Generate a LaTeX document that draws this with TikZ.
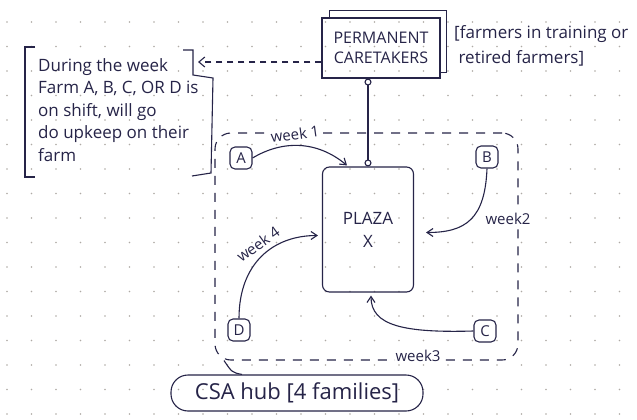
\documentclass[tikz,border=0pt]{standalone}
\usepackage{fontspec}
\setmainfont{Open Sans}
\usetikzlibrary{arrows.meta,calc}
\definecolor{ink}{RGB}{38,36,72}
\definecolor{dotc}{RGB}{175,170,165}
\tikzset{
  ink/.style={draw=ink, line width=1.1pt, text=ink},
  box/.style={ink, align=center, inner sep=2pt},
  farm/.style={ink, rounded corners=5pt, minimum size=22pt, inner sep=0pt, font=\fontsize{15}{16}\selectfont},
  lbl/.style={text=ink, inner sep=1pt, fill=white, font=\fontsize{15}{17}\selectfont},
  flow/.style={draw=ink, line width=1.1pt, -{Straight Barb[length=6pt,width=8pt]}},
}
\begin{document}
\begin{tikzpicture}[x=1pt,y=-1pt]
\useasboundingbox (0,0) rectangle (637,420);
\fill[white] (0,0) rectangle (637,420);
\foreach \i in {0,...,25}{\foreach \j in {0,...,17}{\fill[dotc] (7+24.5*\i, 22+24.5*\j) circle (0.8pt);}}

% permanent caretakers
\node[box, minimum width=118pt, minimum height=60pt, font=\fontsize{16}{20}\selectfont] (pc) at (381,48) {PERMANENT\\CARETAKERS};
\draw[ink] ([xshift=8pt]pc.north west) -- ([xshift=8pt,yshift=7pt]pc.north west) -- ([xshift=6pt,yshift=7pt]pc.north east) -- ([xshift=6pt,yshift=6pt]pc.south east) -- ([yshift=6pt]pc.south east);
\node[lbl, fill=none, align=left, anchor=north west, font=\fontsize{17}{25}\selectfont] (pcnote) at (453,24) {[farmers in training or\\\ retired farmers]};

% note
\node[lbl, fill=none, align=left, anchor=north west, font=\fontsize{17}{22.5}\selectfont] (note) at (37,57) {During the week\\Farm A, B, C, OR D is\\on shift, will go\\do upkeep on their\\farm};
\draw[ink] (35,47) -- (25,47) -- (25,177) -- (35,177);
\draw[ink] (183,50) -- (193,50) -- (193,75) -- (213,78) -- (211,173) -- (192,176);
\coordinate (noteR) at (198,62);
\draw[ink, dashed, dash pattern=on 6pt off 5pt, -{Straight Barb[length=6pt,width=10pt]}] ([yshift=-14pt]pc.west) -- (noteR);

% region
\node[ink, dashed, dash pattern=on 9pt off 8pt, rounded corners=16pt, minimum width=303pt, minimum height=227pt] (region) at (366.5,246.5) {};

% plaza
\node[box, rounded corners=7pt, minimum width=91pt, minimum height=125pt, font=\fontsize{17}{23}\selectfont] (plaza) at (368,229.5) {PLAZA\\X};
\draw[ink, {Circle[open,length=7pt,width=7pt,fill=white]}-{Circle[open,length=7pt,width=7pt,fill=white]}] (plaza.north |- pc.south) -- (plaza.north);

% farms
\node[farm] (A) at (241,158) {A};
\node[farm] (B) at (487,157) {B};
\node[farm] (C) at (485,331) {C};
\node[farm] (D) at (239,330) {D};

\draw[flow] (A.east) .. controls +(30,-18) and +(-30,-25) .. ($(plaza.north)+(-21,-1)$);
\node[lbl, rotate=8] (w1) at (295,134) {week 1};
\draw[flow] (B.south) .. controls +(-2,50) and +(40,0) .. ($(plaza.east)+(12,3)$);
\node[lbl] (w2) at (508,219) {week2};
\draw[flow] (C.west) .. controls +(-70,2) and +(0,30) .. ($(plaza.south)+(3,3)$);
\node[lbl] (w3) at (418,356) {week3};
\draw[flow] (D.north) .. controls +(0,-55) and +(-45,0) .. ($(plaza.west)+(-4,6)$);
\node[lbl, fill=none, rotate=36] (w4) at (258,244) {week 4};

% CSA hub
\node[ink, rounded corners=17pt, minimum width=252pt, minimum height=36pt, font=\fontsize{22}{24}\selectfont] (hub) at (297,393) {CSA hub [4 families]};
\draw[ink] ([xshift=-55pt]hub.north) .. controls +(-10,-2) .. (region.south -| 224,0);
\end{tikzpicture}
\end{document}
